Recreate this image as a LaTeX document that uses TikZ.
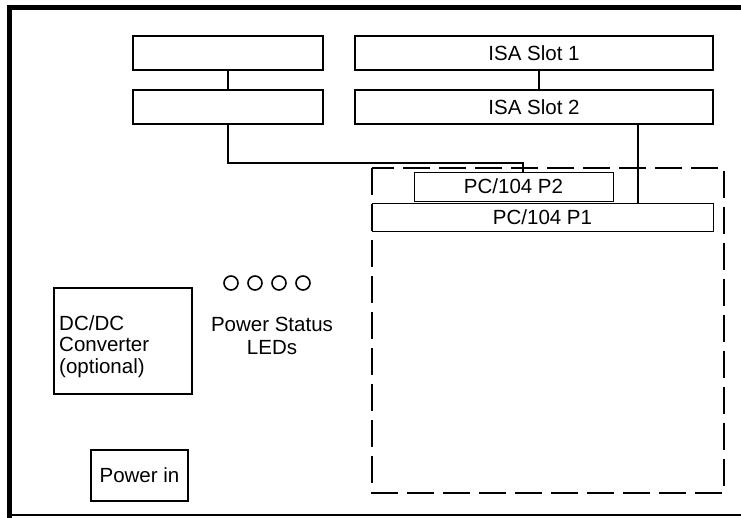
\documentclass[tikz,border=0pt]{standalone}
\usepackage{fontspec}
\setmainfont{Liberation Sans}
\begin{document}
\begin{tikzpicture}[x=1pt,y=-1pt,
  box/.style={draw,line width=2pt,rectangle,inner sep=0pt,font=\fontsize{20.5}{23}\selectfont},
  thinbox/.style={draw,line width=1pt,rectangle,inner sep=0pt,font=\fontsize{20.5}{23}\selectfont},
  wire/.style={line width=2pt},
  led/.style={draw,line width=1.6pt,circle,minimum size=14pt,inner sep=0pt},
  lbl/.style={inner sep=0pt}]
\useasboundingbox (0,0) rectangle (741,517);
% outer frame
\draw[line width=5pt] (9.5,519) -- (9.5,7.5) -- (743,7.5);
\draw[line width=1.5pt] (9,515) -- (741,515);
% slot boxes
\node[box,minimum width=190,minimum height=34] (A) at (228,53) {};
\node[box,minimum width=190,minimum height=34] (B) at (228,107) {};
\node[box,minimum width=358,minimum height=34] (S1) at (534,53) {ISA Slot 1};
\node[box,minimum width=358,minimum height=34] (S2) at (534,107) {ISA Slot 2};
% dashed PC/104 area
\draw[line width=2pt,dash pattern=on 27pt off 9pt] (372,168) rectangle (724,493);
\node[thinbox,minimum width=199,minimum height=29] (P2) at (513.5,186.5) {PC/104 P2};
\node[thinbox,minimum width=341,minimum height=28] (P1) at (542.5,217) {PC/104 P1};
% connectors
\draw[wire] (A.south) -- (B.north);
\draw[wire] ([xshift=5pt]S1.south) -- ([xshift=5pt]S2.north);
\draw[wire] (B.south) -- ++(0,38) -| ([xshift=9.5pt]P2.north);
\draw[wire] ([xshift=104pt]S2.south) -- ([xshift=104pt]S2.south |- P1.north);
% LEDs
\node[led] (L1) at (231,283) {};
\node[led] (L2) at (255,283) {};
\node[led] (L3) at (279,283) {};
\node[led] (L4) at (303,283) {};
\node[lbl,align=center,anchor=base,font=\fontsize{20.5}{23}\selectfont] (LT) at (272,354) {Power Status\\LEDs};
% DC/DC
\node[draw,line width=1.5pt,rectangle,minimum width=138,minimum height=106,inner sep=0pt] (DC) at (123,341) {};
\node[lbl,align=left,anchor=base west,font=\fontsize{20.5}{21.5}\selectfont] (DCT) at (59,373) {DC/DC\\Converter\\(optional)};
% Power in
\node[draw,line width=1.5pt,rectangle,minimum width=97,minimum height=51,inner sep=0pt,font=\fontsize{20.5}{23}\selectfont] (PI) at (139.5,475.5) {Power in};
\end{tikzpicture}
\end{document}
